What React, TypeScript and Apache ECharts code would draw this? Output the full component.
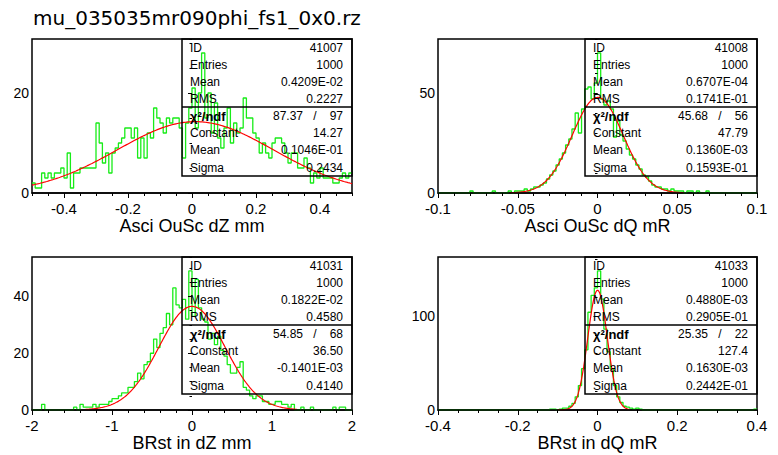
import React, { useEffect, useRef } from "react";
import * as echarts from "echarts";

// ---------- data ----------
const FILE_TITLE = "mu_035035mr090phi_fs1_0x0.rz";
const AXIS_TITLES = ["Asci OuSc dZ mm", "Asci OuSc dQ mR", "BRst in dZ mm", "BRst in dQ mR"];
const X_RANGES = [[-0.5, 0.5], [-0.1, 0.1], [-2, 2], [-0.4, 0.4]];
const X_LABELS = [
  [-0.4, -0.2, 0, 0.2, 0.4],
  [-0.1, -0.05, 0, 0.05, 0.1],
  [-2, -1, 0, 1, 2],
  [-0.4, -0.2, 0, 0.2, 0.4],
];
const X_MINOR = [0.05, 0.01, 0.2, 0.05];
const Y_LABELS = [[0, 20], [0, 50], [0, 20, 40], [0, 100]];
const Y_MINOR = [5, 10, 5, 20];

// histogram contents, 100 bins each
const H41007 = [
  2, 1, 1, 4, 3, 4, 3, 4, 4, 5,
  3, 8, 1, 4, 4, 5, 5, 5, 5, 5,
  14, 10, 6, 8, 4, 8, 9, 10, 11, 13,
  13, 11, 13, 7, 11, 7, 12, 11, 17, 15,
  14, 12, 15, 14, 15, 15, 13, 7, 14, 17,
  21, 13, 20, 28, 15, 20, 12, 18, 11, 9,
  13, 17, 10, 14, 12, 13, 19, 15, 15, 12,
  11, 8, 10, 8, 7, 10, 11, 11, 10, 8,
  6, 8, 8, 5, 5, 7, 5, 2, 4, 3,
  5, 3, 3, 3, 2, 2, 3, 4, 3, 4,
];
const H41008 = [
  0, 0, 0, 0, 0, 0, 0, 0, 0, 0,
  1, 0, 0, 0, 0, 0, 0, 1, 0, 0,
  0, 0, 1, 0, 1, 1, 1, 2, 1, 2,
  3, 3, 4, 5, 7, 9, 11, 14, 17, 20,
  24, 27, 32, 40, 30, 42, 52, 53, 47, 55,
  70, 47, 44, 46, 42, 28, 36, 29, 26, 22,
  19, 17, 14, 12, 9, 8, 6, 4, 3, 3,
  2, 2, 1, 2, 1, 1, 1, 0, 1, 1,
  0, 1, 0, 0, 1, 0, 0, 0, 0, 0,
  0, 0, 0, 0, 0, 0, 0, 0, 0, 0,
];
const H41031 = [
  0, 0, 0, 2, 0, 0, 0, 0, 0, 0,
  0, 0, 0, 1, 0, 2, 1, 1, 1, 2,
  1, 2, 2, 2, 3, 4, 4, 5, 6, 6,
  8, 8, 10, 13, 11, 16, 17, 20, 25, 22,
  27, 29, 34, 30, 43, 37, 36, 39, 32, 49,
  33, 46, 36, 32, 31, 25, 27, 23, 26, 21,
  19, 16, 13, 13, 15, 17, 8, 7, 5, 4,
  5, 5, 3, 3, 2, 2, 3, 3, 2, 2,
  1, 2, 0, 0, 1, 0, 0, 1, 0, 0,
  0, 0, 0, 0, 1, 0, 1, 1, 0, 0,
];
const H41033 = [
  0, 0, 0, 0, 0, 0, 0, 0, 0, 0,
  0, 0, 0, 0, 0, 0, 0, 0, 0, 0,
  0, 0, 0, 0, 0, 0, 0, 0, 0, 0,
  0, 0, 0, 0, 0, 1, 1, 0, 1, 2,
  2, 4, 7, 14, 26, 44, 64, 104, 122, 130,
  148, 118, 86, 62, 44, 26, 14, 8, 4, 3,
  2, 1, 2, 1, 0, 0, 0, 0, 0, 0,
  0, 0, 0, 0, 0, 0, 0, 0, 0, 0,
  0, 0, 0, 0, 0, 0, 0, 0, 0, 0,
  0, 0, 0, 0, 0, 0, 0, 0, 0, 1,
];
const HISTS = [H41007, H41008, H41031, H41033];

// statistics boxes
const HIST_IDS = ["41007", "41008", "41031", "41033"];
const ENTRIES = ["1000", "1000", "1000", "1000"];
const MEAN_TEXT = ["0.4209E-02", "0.6707E-04", "0.1822E-02", "0.4880E-03"];
const RMS_TEXT = ["0.2227", "0.1741E-01", "0.4580", "0.2905E-01"];
const CHI2_TEXT = ["87.37", "45.68", "54.85", "25.35"];
const NDF_TEXT = ["97", "56", "68", "22"];
const CONST_TEXT = ["14.27", "47.79", "36.50", "127.4"];
const FMEAN_TEXT = ["0.1046E-01", "0.1360E-03", "-0.1401E-03", "0.1630E-03"];
const SIGMA_TEXT = ["0.2434", "0.1593E-01", "0.4140", "0.2442E-01"];

// gaussian fit parameters (as printed) and drawn range
const FIT_CONSTANT = [14.27, 47.79, 36.5, 127.4];
const FIT_MEAN = [0.1046e-1, 0.136e-3, -0.1401e-3, 0.163e-3];
const FIT_SIGMA = [0.2434, 0.1593e-1, 0.414, 0.2442e-1];
const FIT_RANGES = [[-0.5, 0.5], [-0.055, 0.054], [-1.33, 1.31], [-0.1, 0.08]];

// ---------- layout ----------
const GRIDS = [
  { left: 32, top: 39, width: 320, height: 154 },
  { left: 438, top: 39, width: 319, height: 154 },
  { left: 32, top: 257, width: 320, height: 153 },
  { left: 438, top: 257, width: 319, height: 153 },
];
const BOX_LEFT = [182, 585, 182, 585];
const GREEN = "#18ec18";
const RED = "#ff0000";

function histPoints(vals: number[], xr: number[]) {
  const n = vals.length;
  const w = (xr[1] - xr[0]) / n;
  const pts = vals.map((v, i) => [xr[0] + i * w, v]);
  pts.push([xr[1], vals[n - 1]]);
  return pts;
}

function gaussPoints(c: number, m: number, s: number, r: number[]) {
  const pts: number[][] = [];
  const N = 240;
  for (let k = 0; k <= N; k++) {
    const x = r[0] + ((r[1] - r[0]) * k) / N;
    pts.push([x, c * Math.exp(-0.5 * ((x - m) / s) ** 2)]);
  }
  return pts;
}

function buildOption() {
  const grid: any[] = [];
  const xAxis: any[] = [];
  const yAxis: any[] = [];
  const series: any[] = [];
  const graphic: any[] = [];

  graphic.push({
    type: "text",
    x: 33,
    y: 18,
    z: 20,
    style: {
      text: FILE_TITLE,
      fontSize: 20,
      fontFamily: "DejaVu Sans",
      fill: "#000",
      align: "left",
      verticalAlign: "middle",
    },
  });

  for (let p = 0; p < 4; p++) {
    const g = GRIDS[p];
    grid.push({
      left: g.left,
      top: g.top,
      width: g.width,
      height: g.height,
      show: true,
      borderColor: "#000",
      borderWidth: 1.5,
      backgroundColor: "transparent",
    });
    const hist = HISTS[p];
    const ymax = Math.max(...hist) * 1.1;
    const xr = X_RANGES[p];

    xAxis.push({
      type: "value",
      gridIndex: p,
      position: "bottom",
      min: xr[0],
      max: xr[1],
      interval: X_MINOR[p],
      z: 5,
      axisLine: { show: true, onZero: false, lineStyle: { color: "#000", width: 1.5 } },
      axisTick: { show: true, length: 5, customValues: X_LABELS[p], lineStyle: { color: "#000", width: 1 } },
      axisLabel: {
        show: true,
        customValues: X_LABELS[p],
        margin: 8,
        fontSize: 15,
        color: "#000",
        formatter: (v: number) => String(v),
      },
      splitLine: { show: false },
      name: AXIS_TITLES[p],
      nameLocation: "middle",
      nameGap: 21,
      nameTextStyle: { fontSize: 18, color: "#000", verticalAlign: "top" },
    });
    xAxis.push({
      type: "value",
      gridIndex: p,
      position: "bottom",
      min: xr[0],
      max: xr[1],
      interval: X_MINOR[p],
      z: 5,
      axisLine: { show: false },
      axisTick: { show: true, length: 3, lineStyle: { color: "#000", width: 1 } },
      axisLabel: { show: false },
      splitLine: { show: false },
    });
    yAxis.push({
      type: "value",
      gridIndex: p,
      position: "left",
      min: 0,
      max: ymax,
      interval: Y_MINOR[p],
      z: 5,
      axisLine: { show: false },
      axisTick: { show: true, length: 4, customValues: Y_LABELS[p], lineStyle: { color: "#000", width: 1 } },
      axisLabel: {
        show: true,
        customValues: Y_LABELS[p],
        margin: 3,
        fontSize: 14,
        color: "#000",
        formatter: (v: number) => String(v),
      },
      splitLine: { show: false },
    });
    yAxis.push({
      type: "value",
      gridIndex: p,
      position: "left",
      min: 0,
      max: ymax,
      interval: Y_MINOR[p],
      z: 5,
      axisLine: { show: false },
      axisTick: { show: true, length: 2.5, lineStyle: { color: "#000", width: 1 } },
      axisLabel: { show: false },
      splitLine: { show: false },
    });

    series.push({
      type: "line",
      xAxisIndex: 2 * p,
      yAxisIndex: 2 * p,
      data: histPoints(hist, xr),
      step: "end",
      symbol: "none",
      silent: true,
      z: 2,
      lineStyle: { color: GREEN, width: 1.3 },
    });
    series.push({
      type: "line",
      xAxisIndex: 2 * p,
      yAxisIndex: 2 * p,
      data: gaussPoints(FIT_CONSTANT[p], FIT_MEAN[p], FIT_SIGMA[p], FIT_RANGES[p]),
      symbol: "none",
      silent: true,
      z: 3,
      lineStyle: { color: RED, width: 1.2 },
    });

    // statistics box
    const bl = BOX_LEFT[p];
    const right = g.left + g.width;
    const top = g.top;
    const div = top + 68;
    const bottom = top + 137;
    graphic.push({
      type: "rect",
      z: 10,
      shape: { x: bl, y: top, width: right - bl, height: bottom - top },
      style: { fill: "none", stroke: "#000", lineWidth: 1.5 },
    });
    graphic.push({
      type: "line",
      z: 10,
      shape: { x1: bl, y1: div, x2: right, y2: div },
      style: { stroke: "#000", lineWidth: 1.5 },
    });
    const txt = (text: string, x: number, y: number, align: string, extra: any = {}) => ({
      type: "text",
      z: 11,
      x,
      y,
      style: {
        text,
        fontSize: 12,
        fontFamily: "Liberation Sans",
        fill: "#000",
        align,
        verticalAlign: "middle",
        ...extra,
      },
    });
    const upper = [
      ["ID", HIST_IDS[p]],
      ["Entries", ENTRIES[p]],
      ["Mean", MEAN_TEXT[p]],
      ["RMS", RMS_TEXT[p]],
    ];
    upper.forEach((row, k) => {
      const y = top + 8.5 + 17 * k;
      graphic.push(txt(row[0], bl + 8, y, "left"));
      graphic.push(txt(row[1], right - 9, y, "right"));
    });
    const lower = [
      ["Constant", CONST_TEXT[p]],
      ["Mean", FMEAN_TEXT[p]],
      ["Sigma", SIGMA_TEXT[p]],
    ];
    const y0 = div + 9;
    graphic.push(txt("χ²/ndf", bl + 8, y0, "left", { fontWeight: "bold", fontSize: 13 }));
    graphic.push(txt(CHI2_TEXT[p], right - 49, y0, "right"));
    graphic.push(txt("/", right - 37, y0, "center"));
    graphic.push(txt(NDF_TEXT[p], right - 9, y0, "right"));
    lower.forEach((row, k) => {
      const y = y0 + 17.2 * (k + 1);
      graphic.push(txt(row[0], bl + 8, y, "left"));
      graphic.push(txt(row[1], right - 9, y, "right"));
    });
  }

  return {
    animation: false,
    backgroundColor: "#fff",
    textStyle: { fontFamily: "Liberation Sans" },
    grid,
    xAxis,
    yAxis,
    series,
    graphic,
  };
}

export default function App() {
  const ref = useRef<HTMLDivElement>(null);
  useEffect(() => {
    const chart = echarts.init(ref.current!, null, { renderer: "svg" });
    chart.setOption(buildOption() as any);
    return () => chart.dispose();
  }, []);
  return (
    <div
      ref={ref}
      style={{ position: "absolute", left: 0, top: 0, width: 778, height: 455, background: "#fff" }}
    />
  );
}
